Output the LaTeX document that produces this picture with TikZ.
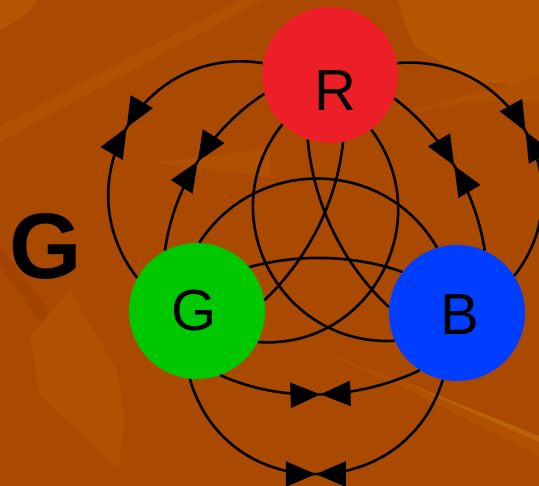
\documentclass[tikz,border=0pt]{standalone}
\usepackage{fontspec}
\setsansfont{Liberation Sans}
\usepackage{tikz}
\usetikzlibrary{arrows.meta,decorations.markings}
\definecolor{bgbrown}{RGB}{170,73,0}
\definecolor{bglight}{RGB}{181,86,2}
\definecolor{bgsoft}{RGB}{176,80,0}
\definecolor{bgdark}{RGB}{163,67,0}
\definecolor{bgstreak}{RGB}{188,98,8}
\definecolor{rnode}{RGB}{236,30,40}
\definecolor{gnode}{RGB}{0,200,0}
\definecolor{bnode}{RGB}{0,62,255}
\tikzset{vertex/.style={circle,minimum size=2.72cm,inner sep=0pt},
    letter/.style={font=\sffamily\fontsize{33}{33}\selectfont},
    link/.style={draw,line width=1.5pt},
    bowtie/.style={link,postaction={decorate},
    decoration={markings,mark=at position 0.5 with
    {\arrow{Triangle[length=0.6cm,width=0.5cm]}\arrowreversed{Triangle[length=0.6cm,width=0.5cm]}}}}}

\begin{document}
\begin{tikzpicture}[x=0.02cm,y=0.02cm]
    \fill[bgbrown] (0,0) rectangle (539,486);
    \fill[bglight] (0,486) -- (38,486) .. controls (25,470) .. (0,456) -- cycle;
    \fill[bgsoft] (0,344) -- (0,360) -- (240,486) -- (262,486) -- cycle;
    \fill[bglight] (398,486) -- (539,486) -- (539,400) -- (470,405) -- (415,440) -- (405,462) -- cycle;
    \fill[bgsoft] (153,323) -- (270,338) -- (270,309) -- cycle;
    \fill[bgsoft] (393,371) -- (539,410) -- (539,384) -- (470,384) -- cycle;
    \fill[bgdark] (0,220) -- (0,240) -- (45,180) -- (110,66) -- (102,70) -- (40,165) -- cycle;
    \fill[bgsoft] (70,195) -- (117,116) -- (125,65) -- (118,18) -- (40,90) -- (30,150) -- cycle;
    \fill[bgsoft] (310,140) -- (539,50) -- (539,30) -- (400,100) -- cycle;
    \fill[bgstreak] (390,110) -- (539,50) -- (539,44) -- cycle;
    \useasboundingbox (0,0) rectangle (539,486);
    \node[vertex,fill=rnode] (R) at (330,411) {};
    \node[vertex,fill=gnode] (G) at (197,175) {};
    \node[vertex,fill=bnode] (B) at (457,173) {};
    \node[letter] (r) at (335,395) {R};
    \node[letter] (g) at (194,175) {G};
    \node[letter] (b) at (460,171) {B};
    \node[font=\sffamily\bfseries\fontsize{53}{53}\selectfont] (title) at (46,240) {G};
    \draw[bowtie] (R.170) to[out=171,in=128,looseness=1.25] (G.151);
    \draw[bowtie] (R.196) to[out=213,in=82,looseness=0.89] (G.118);
    \draw[bowtie] (R.10) to[out=5,in=52,looseness=1.22] (B.33);
    \draw[bowtie] (R.340) to[out=-37,in=99,looseness=0.88] (B.66);
    \draw[bowtie] (G.264) to[out=-74,in=253,looseness=1.33] (B.258);
    \draw[bowtie] (G.290) to[out=-24,in=205,looseness=0.89] (B.237);
    \draw[link] (G.40) to[out=15,in=161,looseness=0.87] (B.143);
    \draw[link] (G.88) to[out=57,in=120,looseness=1.12] (B.107);
    \draw[link] (R.281) to[out=-96,in=44,looseness=0.88] (G.9);
    \draw[link] (R.251) to[out=-85,in=137,looseness=0.88] (B.175);
    \draw[link] (R.307) to[out=-53,in=-4,looseness=1.2] (G.333);
    \draw[link] (R.226) to[out=231,in=183,looseness=1.21] (B.204);
\end{tikzpicture}
\end{document}
